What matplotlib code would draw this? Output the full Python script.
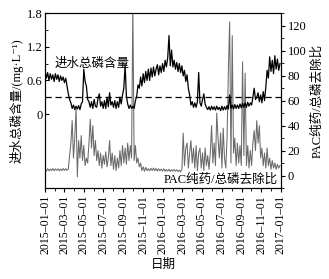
import numpy as np
import pandas as pd
import matplotlib
matplotlib.use('Agg')
import matplotlib.pyplot as plt
import matplotlib.dates as mdates
from matplotlib.ticker import MultipleLocator

plt.rcParams['font.family'] = ['Liberation Serif', 'Noto Sans CJK SC', 'DejaVu Serif']

# influent total phosphorus, mg/L, every 4 days from 2015-01-01
tp_in = [
    0.76, 0.64, 0.74, 0.60, 0.72, 0.62, 0.70, 0.58, 0.72, 0.62,
    0.70, 0.58, 0.68, 0.60, 0.66, 0.56, 0.64, 0.50, 0.36, 0.26,
    0.20, 0.10, 0.16, 0.08, 0.14, 0.09, 0.15, 0.08, 0.18, 0.22,
    0.80, 0.58, 0.50, 0.26, 0.22, 0.12, 0.22, 0.10, 0.26, 0.14,
    0.12, 0.28, 0.36, 0.14, 0.22, 0.10, 0.24, 0.10, 0.30, 0.13,
    0.38, 0.16, 0.22, 0.12, 0.24, 0.10, 0.22, 0.12, 0.30, 0.18,
    0.34, 0.46, 0.88, 0.32, 0.18, 0.10, 0.16, 0.10, 0.14, 0.10,
    0.24, 0.32, 0.52, 0.46, 0.66, 0.50, 0.72, 0.56, 0.76, 0.60,
    0.80, 0.60, 0.82, 0.66, 0.84, 0.68, 0.80, 0.88, 0.70, 0.86,
    0.74, 0.90, 0.76, 0.96, 0.84, 1.00, 1.40, 0.86, 1.14, 0.84,
    0.96, 0.80, 0.92, 0.76, 0.90, 0.74, 0.86, 0.68, 0.78, 0.58,
    0.70, 0.46, 0.34, 0.16, 0.22, 0.12, 0.20, 0.12, 0.22, 0.74,
    0.20, 0.14, 0.26, 0.36, 0.18, 0.12, 0.08, 0.13, 0.07, 0.14,
    0.08, 0.13, 0.07, 0.14, 0.08, 0.12, 0.06, 0.14, 0.07, 0.13,
    0.08, 0.15, 0.09, 0.34, 0.10, 0.16, 0.09, 0.17, 0.10, 0.16,
    0.10, 0.18, 0.11, 0.19, 0.12, 0.20, 0.12, 0.21, 0.14, 0.20,
    0.16, 0.30, 0.46, 0.26, 0.30, 0.38, 0.22, 0.34, 0.20, 0.40,
    0.24, 0.48, 0.78, 0.64, 1.02, 0.76, 0.96, 0.72, 1.04, 0.80,
    0.98, 0.78, 0.90,
]

# PAC dosage / TP removal ratio, same dates
pac_ratio = [
    4.5, 3.5, 5.5, 3.8, 5.2, 4.0, 5.6, 3.9, 5.3, 4.2,
    5.4, 3.8, 5.2, 4.0, 5.6, 4.1, 5.5, 4.3, 5.0, 16,
    26, 44, 14, 30, 54, -1, 28, 14, 32, 12,
    24, 8, 14, 10, 26, 45, 22, 40, 16, 28,
    12, 20, 8, 18, 6, 16, 9, 19, 7, 14,
    28, 8, 18, 5, 16, 4, 14, 6, 20, 8,
    24, 10, 22, 9, 26, 12, 24, 14, 135, 12,
    24, 10, 14, 7, 10, 4, 7, 3.5, 6.5, 4,
    5.5, 3.8, 5.8, 4.0, 6.0, 3.9, 5.6, 3.6, 5.4, 3.8,
    5.2, 3.6, 5.4, 3.4, 4.8, 3.5, 5.0, 3.2, 4.8, 3.6,
    4.8, 3.4, 4.6, 3.2, 4.4, 3.0, 5.0, 34, 8, 22,
    26, 6, 18, 28, 10, 22, 6, 24, 4, 18,
    22, 6, 18, 4, 22, 8, 16, 5, 18, 40,
    10, 26, 8, 50, 30, 14, 34, 6, 38, 14,
    6, 30, 84, 123, 10, 112, 18, 30, 8, 26,
    10, 24, 8, 91, 16, 82, 8, 24, 6, 20,
    8, 26, 36, 20, 44, 26, 40, 14, 22, 8,
    18, 6, 22, 8, 14, 5, 12, 6, 10, 5,
    9, 6, 8,
]

dates = pd.date_range('2015-01-01', periods=len(tp_in), freq='4D')
tick_dates = pd.date_range('2015-01-01', '2017-01-01', freq='2MS')
tick_labels = [d.strftime('%Y–%m–%d') for d in tick_dates]
tp_limit = 0.3

fig = plt.figure(figsize=(3.29, 2.79), dpi=100)
ax = fig.add_axes([0.137, 0.326, 0.717, 0.627])
ax2 = ax.twinx()

ax.plot(dates, tp_in, color='black', linewidth=0.9, zorder=3)
ax.axhline(tp_limit, color='black', linestyle=(0, (5, 3)), linewidth=0.9, zorder=4)
ax2.plot(dates, pac_ratio, color='#6a6a6a', linewidth=0.75)
ax.set_zorder(ax2.get_zorder() + 1)
ax.patch.set_visible(False)

ax.set_xlim(pd.Timestamp('2015-01-01'), pd.Timestamp('2017-01-01'))
ax.set_ylim(-1.32, 1.8)
ax.set_yticks([0, 0.6, 1.2, 1.8])
ax.set_yticklabels(['0', '0.6', '1.2', '1.8'])
ax.set_yticks([0.3, 0.9, 1.5], minor=True)
ax.tick_params(axis='y', which='both', direction='in', labelsize=9, pad=2)
ax.tick_params(axis='y', which='major', length=3)
ax.tick_params(axis='y', which='minor', length=2)

ax.set_xticks(tick_dates)
ax.set_xticklabels(tick_labels, rotation=90, fontsize=8.5)
ax.xaxis.set_minor_locator(mdates.MonthLocator())
ax.tick_params(axis='x', which='major', direction='out', length=3, pad=2)
ax.tick_params(axis='x', which='minor', direction='out', length=2)

ax2.set_ylim(-10, 130)
ax2.set_yticks(range(0, 121, 20))
ax2.yaxis.set_minor_locator(MultipleLocator(10))
ax2.tick_params(axis='y', which='both', direction='out', labelsize=9, pad=2)
ax2.tick_params(axis='y', which='major', length=3)
ax2.tick_params(axis='y', which='minor', length=2)

ax.set_ylabel('进水总磷含量/(mg·L⁻¹)', fontsize=9, labelpad=2)
ax2.set_ylabel('PAC纯药/总磷去除比', fontsize=9, labelpad=3)
ax.set_xlabel('日期', fontsize=9, labelpad=3)

ax.text(0.04, 0.71, '进水总磷含量', transform=ax.transAxes, fontsize=9,
        ha='left', va='center')
ax.text(0.985, 0.05, 'PAC纯药/总磷去除比', transform=ax.transAxes, fontsize=9,
        ha='right', va='center')

for a in (ax, ax2):
    for s in a.spines.values():
        s.set_linewidth(0.8)

plt.savefig('out.png', dpi=100)
